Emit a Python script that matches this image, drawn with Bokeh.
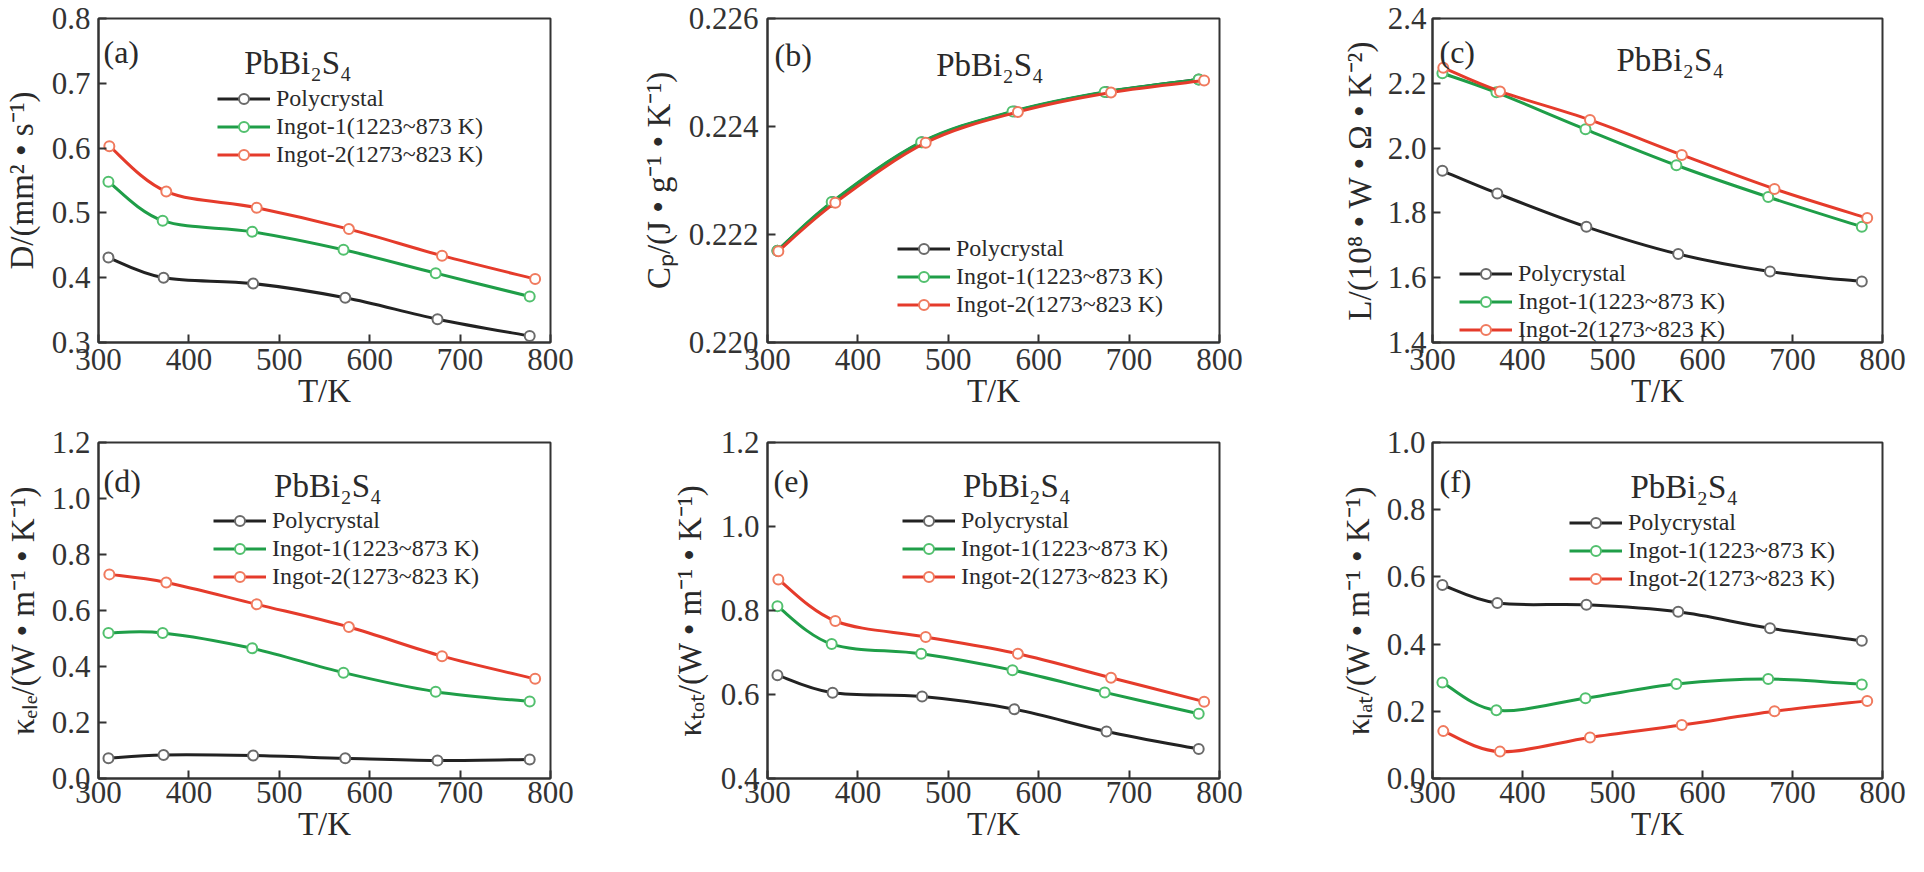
from bokeh.plotting import figure
from bokeh.models import Range1d, FixedTicker, Legend, LegendItem, Label
from bokeh.layouts import gridplot
from bokeh.embed import file_html
from bokeh.resources import INLINE

# ---------------- data ----------------
series_names = ["Polycrystal", "Ingot-1(1223~873 K)", "Ingot-2(1273~823 K)"]

T_poly = [311, 372, 471, 573, 675, 777]
T_ing1 = [311, 371, 470, 571, 673, 777]
T_ing2 = [312, 375, 475, 577, 680, 783]

D_poly = [0.431, 0.400, 0.391, 0.369, 0.336, 0.310]
D_ing1 = [0.548, 0.488, 0.471, 0.443, 0.407, 0.371]
D_ing2 = [0.603, 0.533, 0.508, 0.475, 0.434, 0.398]

Cp_poly = [0.22170, 0.22260, 0.22371, 0.22428, 0.22464, 0.22487]
Cp_ing1 = [0.22170, 0.22260, 0.22371, 0.22428, 0.22464, 0.22487]
Cp_ing2 = [0.22169, 0.22259, 0.22370, 0.22427, 0.22463, 0.22485]

L_poly = [1.930, 1.860, 1.757, 1.673, 1.619, 1.588]
L_ing1 = [2.231, 2.172, 2.058, 1.947, 1.849, 1.757]
L_ing2 = [2.248, 2.175, 2.087, 1.979, 1.874, 1.784]

kele_poly = [0.072, 0.084, 0.082, 0.072, 0.064, 0.068]
kele_ing1 = [0.520, 0.520, 0.465, 0.378, 0.310, 0.275]
kele_ing2 = [0.729, 0.700, 0.622, 0.541, 0.437, 0.356]

ktot_poly = [0.646, 0.604, 0.595, 0.565, 0.512, 0.470]
ktot_ing1 = [0.810, 0.720, 0.697, 0.658, 0.605, 0.554]
ktot_ing2 = [0.874, 0.775, 0.737, 0.697, 0.640, 0.583]

klat_poly = [0.576, 0.522, 0.517, 0.496, 0.447, 0.410]
klat_ing1 = [0.286, 0.203, 0.239, 0.281, 0.296, 0.280]
klat_ing2 = [0.141, 0.080, 0.122, 0.159, 0.200, 0.231]

x_ticks = [300, 400, 500, 600, 700, 800]
x_tick_labels = ["300", "400", "500", "600", "700", "800"]

yt_D = [0.3, 0.4, 0.5, 0.6, 0.7, 0.8]
yl_D = ["0.3", "0.4", "0.5", "0.6", "0.7", "0.8"]
yt_Cp = [0.220, 0.222, 0.224, 0.226]
yl_Cp = ["0.220", "0.222", "0.224", "0.226"]
yt_L = [1.4, 1.6, 1.8, 2.0, 2.2, 2.4]
yl_L = ["1.4", "1.6", "1.8", "2.0", "2.2", "2.4"]
yt_kele = [0.0, 0.2, 0.4, 0.6, 0.8, 1.0, 1.2]
yl_kele = ["0.0", "0.2", "0.4", "0.6", "0.8", "1.0", "1.2"]
yt_ktot = [0.4, 0.6, 0.8, 1.0, 1.2]
yl_ktot = ["0.4", "0.6", "0.8", "1.0", "1.2"]
yt_klat = [0.0, 0.2, 0.4, 0.6, 0.8, 1.0]
yl_klat = ["0.0", "0.2", "0.4", "0.6", "0.8", "1.0"]

# ---------------- style ----------------
FONT = "Liberation Serif"
AX = "#333333"
line_colors = ["#222222", "#1f9e48", "#e53b2b"]
marker_colors = ["#6a6a6a", "#52c06e", "#f07a5e"]
ROW_HALF = 20   # offset between a legend's anchor and its row centre
ROW_PITCH = 28  # distance between legend rows


def catmull(xs, ys):
    """Bezier control points of a Catmull-Rom curve through the data points."""
    px = [xs[0]] + list(xs) + [xs[-1]]
    py = [ys[0]] + list(ys) + [ys[-1]]
    d = dict(x0=[], y0=[], x1=[], y1=[], cx0=[], cy0=[], cx1=[], cy1=[])
    for i in range(len(xs) - 1):
        d["x0"].append(px[i + 1]); d["y0"].append(py[i + 1])
        d["x1"].append(px[i + 2]); d["y1"].append(py[i + 2])
        d["cx0"].append(px[i + 1] + (px[i + 2] - px[i]) / 6.0)
        d["cy0"].append(py[i + 1] + (py[i + 2] - py[i]) / 6.0)
        d["cx1"].append(px[i + 2] - (px[i + 3] - px[i + 1]) / 6.0)
        d["cy1"].append(py[i + 2] - (py[i + 3] - py[i + 1]) / 6.0)
    return d


def make_panel(letter, ylabel, ylo, yhi, yticks, ylabels, ys, w, h, bl, br, bt, bb,
               ytick_sd, ylab_sd, xtick_sd, leg_x, leg_row1, let_x, let_y, pb_x, pb_y):
    p = figure(width=w, height=h, x_range=Range1d(300, 800), y_range=Range1d(ylo, yhi),
               output_backend="svg", toolbar_location=None,
               min_border_left=bl, min_border_right=br, min_border_top=bt, min_border_bottom=bb,
               background_fill_color="white", border_fill_color="white")
    fw = w - bl - br
    fh = h - bt - bb
    p.grid.visible = False
    p.outline_line_color = AX
    p.outline_line_width = 2

    for ax in (p.xaxis[0], p.yaxis[0]):
        ax.axis_line_color = AX
        ax.axis_line_width = 2
        ax.major_tick_line_color = AX
        ax.major_tick_line_width = 2
        ax.major_tick_in = 8
        ax.major_tick_out = 0
        ax.minor_tick_in = 0
        ax.minor_tick_out = 0
        ax.major_label_text_font = FONT
        ax.major_label_text_font_size = "31px"
        ax.major_label_text_color = "#333333"
        ax.axis_label_text_font = FONT
        ax.axis_label_text_font_size = "33px"
        ax.axis_label_text_font_style = "normal"
        ax.axis_label_text_color = "#2a2a2a"

    p.xaxis.ticker = FixedTicker(ticks=x_ticks)
    p.xaxis.major_label_overrides = {t: s for t, s in zip(x_ticks, x_tick_labels)}
    p.xaxis.axis_label = "T/K"
    p.xaxis.major_label_standoff = xtick_sd
    p.xaxis.axis_label_standoff = 0

    p.yaxis.ticker = FixedTicker(ticks=yticks)
    p.yaxis.major_label_overrides = {t: s for t, s in zip(yticks, ylabels)}
    p.yaxis.axis_label = ylabel
    p.yaxis.major_label_standoff = ytick_sd
    p.yaxis.axis_label_standoff = ylab_sd

    Ts = [T_poly, T_ing1, T_ing2]
    for k in range(3):
        src = catmull(Ts[k], ys[k])
        p.bezier(x0="x0", y0="y0", x1="x1", y1="y1", cx0="cx0", cy0="cy0", cx1="cx1", cy1="cy1",
                 source=src, line_color=line_colors[k], line_width=3)
        sc = p.scatter(Ts[k], ys[k], marker="circle", size=10, fill_color="white",
                       line_color=marker_colors[k], line_width=2)
        # line sample used only for the legend (single undefined point: draws nothing in the plot)
        lg = p.line(x=[float("nan")], y=[float("nan")], line_color=line_colors[k], line_width=3)
        row_center = leg_row1 - k * ROW_PITCH   # from frame bottom
        legend = Legend(items=[LegendItem(label=series_names[k], renderers=[lg, sc])],
                        location=(leg_x, row_center - ROW_HALF),
                        orientation="vertical", padding=0, margin=0, spacing=0,
                        glyph_width=53, glyph_height=25, label_height=25, label_standoff=6,
                        label_text_font=FONT, label_text_font_size="24px",
                        label_text_color="#2a2a2a",
                        border_line_alpha=0, background_fill_alpha=0)
        p.add_layout(legend)

    def to_data(dx, dy):
        return 300 + dx / fw * 500.0, yhi - dy / fh * (yhi - ylo)

    lx, ly = to_data(let_x, let_y)
    p.add_layout(Label(x=lx, y=ly, text="(" + letter + ")", text_font=FONT,
                       text_font_size="32px", text_color="#2a2a2a",
                       text_align="left", text_baseline="alphabetic"))
    px_, py_ = to_data(pb_x, pb_y)
    p.add_layout(Label(x=px_, y=py_, text="PbBi₂S₄", text_font=FONT,
                       text_font_size="33px", text_color="#2a2a2a",
                       text_align="left", text_baseline="alphabetic"))
    return p


R1 = dict(h=424, bt=18, bb=82, xtick_sd=6)   # frame 324 tall
R2 = dict(h=432, bt=18, bb=78, xtick_sd=3)   # frame 336 tall

pa = make_panel("a", "D/(mm² • s⁻¹)", 0.3, 0.8, yt_D, yl_D, [D_poly, D_ing1, D_ing2],
                w=632, bl=97, br=82, ytick_sd=8, ylab_sd=9,
                leg_x=119, leg_row1=250, let_x=5, let_y=33, pb_x=146, pb_y=44, **R1)
pb = make_panel("b", "Cₚ/(J • g⁻¹ • K⁻¹)", 0.220, 0.226, yt_Cp, yl_Cp, [Cp_poly, Cp_ing1, Cp_ing2],
                w=640, bl=134, br=53, ytick_sd=9, ylab_sd=9,
                leg_x=130, leg_row1=100, let_x=7, let_y=36, pb_x=169, pb_y=46, **R1)
pc = make_panel("c", "L/(10⁸ • W • Ω • K⁻²)", 1.4, 2.4, yt_L, yl_L, [L_poly, L_ing1, L_ing2],
                w=636, bl=160, br=26, ytick_sd=6, ylab_sd=7,
                leg_x=27, leg_row1=75, let_x=7, let_y=33, pb_x=184, pb_y=41, **R1)
pd = make_panel("d", "κₑₗₑ/(W • m⁻¹ • K⁻¹)", 0.0, 1.2, yt_kele, yl_kele, [kele_poly, kele_ing1, kele_ing2],
                w=632, bl=97, br=82, ytick_sd=8, ylab_sd=8,
                leg_x=115, leg_row1=264, let_x=5, let_y=38, pb_x=176, pb_y=43, **R2)
pe = make_panel("e", "κₜₒₜ/(W • m⁻¹ • K⁻¹)", 0.4, 1.2, yt_ktot, yl_ktot, [ktot_poly, ktot_ing1, ktot_ing2],
                w=640, bl=135, br=52, ytick_sd=8, ylab_sd=10,
                leg_x=135, leg_row1=264, let_x=6, let_y=38, pb_x=196, pb_y=43, **R2)
pf = make_panel("f", "κₗₐₜ/(W • m⁻¹ • K⁻¹)", 0.0, 1.0, yt_klat, yl_klat, [klat_poly, klat_ing1, klat_ing2],
                w=636, bl=160, br=26, ytick_sd=7, ylab_sd=8,
                leg_x=137, leg_row1=262, let_x=7, let_y=38, pb_x=198, pb_y=44, **R2)

grid = gridplot([[pa, pb, pc], [pd, pe, pf]], toolbar_location=None)

open("out.html", "w").write(file_html(grid, INLINE))
